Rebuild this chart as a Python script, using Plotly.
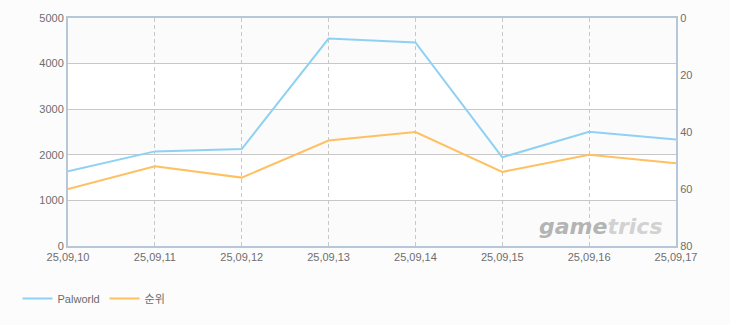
import plotly.graph_objects as go

dates = ["25,09,10", "25,09,11", "25,09,12", "25,09,13", "25,09,14", "25,09,15", "25,09,16", "25,09,17"]
palworld = [1640, 2075, 2125, 4550, 4465, 1945, 2505, 2335]
rank = [60, 52, 56, 43, 40, 54, 48, 51]

left_ticks = [0, 1000, 2000, 3000, 4000, 5000]
right_ticks = [0, 20, 40, 60, 80]

FONT = "Liberation Sans, Arial, Noto Sans CJK KR, sans-serif"
TICK_COLOR = "#6e6e6e"
GRID = "#c8c8c8"
AXLINE = "#b6c7da"

fig = go.Figure()
fig.add_trace(go.Scatter(x=dates, y=palworld, name="Palworld", mode="lines",
                         line=dict(color="#8fd1f2", width=2), yaxis="y"))
fig.add_trace(go.Scatter(x=dates, y=rank, name="순위", mode="lines",
                         line=dict(color="#ffc061", width=2), yaxis="y2"))

# alternating bands
for i in range(0, 5):
    fig.add_shape(type="rect", xref="paper", yref="y", x0=0, x1=1,
                  y0=left_ticks[i], y1=left_ticks[i + 1],
                  fillcolor="#fbfbfb" if i % 2 == 0 else "#ffffff",
                  line=dict(width=0), layer="below")

fig.add_annotation(xref="paper", yref="paper", x=0.982, y=0.085, xanchor="right", yanchor="middle",
                   text="<b><i><span style='color:#b4b4b4'>game</span><span style='color:#d2d2d2'>trics</span></i></b>",
                   showarrow=False, font=dict(family="DejaVu Sans, sans-serif", size=22))

fig.update_layout(
    width=730, height=325,
    margin=dict(l=68, r=54, t=16, b=77),
    paper_bgcolor="#fcfcfc",
    plot_bgcolor="#ffffff",
    font=dict(family=FONT, size=11, color=TICK_COLOR),
    showlegend=True,
    legend=dict(orientation="h", x=-0.083, xanchor="left", y=-0.23, yanchor="middle",
                font=dict(family=FONT, size=11, color="#6b6b6b"), bgcolor="rgba(0,0,0,0)",
                itemwidth=30, entrywidth=42),
    xaxis=dict(type="category", range=[0, len(dates) - 1], showgrid=True, gridcolor=GRID,
               griddash="4px,3px", gridwidth=1, showline=True, linecolor=AXLINE, linewidth=2,
               mirror=True, ticks="", tickfont=dict(size=11, color=TICK_COLOR), zeroline=False),
    yaxis=dict(range=[0, 5000], tickvals=left_ticks, showgrid=True, gridcolor=GRID, gridwidth=1,
               showline=True, linecolor=AXLINE, linewidth=2, ticks="", zeroline=False,
               tickfont=dict(size=11, color=TICK_COLOR)),
    yaxis2=dict(overlaying="y", side="right", range=[80, 0], tickvals=right_ticks, showgrid=False,
                showline=True, linecolor=AXLINE, linewidth=2, ticks="", zeroline=False,
                tickfont=dict(size=11, color=TICK_COLOR)),
)

fig.write_html("out.html")
